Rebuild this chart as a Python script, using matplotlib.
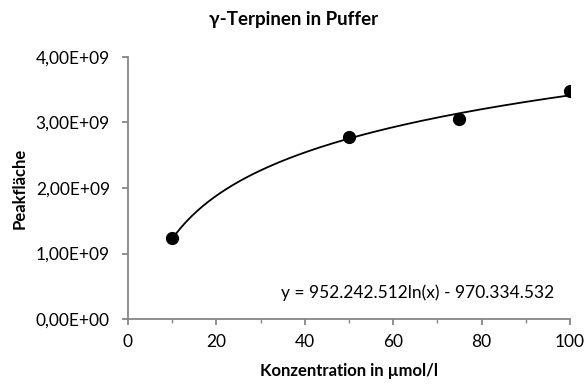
import numpy as np
import matplotlib
matplotlib.use("Agg")
import matplotlib.pyplot as plt
from matplotlib.ticker import FuncFormatter, MultipleLocator

plt.rcParams['font.family'] = ['Lato', 'DejaVu Sans']

# Messwerte
konzentration = [10, 50, 75, 100]
peakflaeche = [1.235e9, 2.785e9, 3.05e9, 3.485e9]

# logarithmische Trendlinie
fit_a = 952242512
fit_b = -970334532
fit_label = "y = 952.242.512ln(x) - 970.334.532"

axis_grey = "#868686"


def sci_comma(v, pos):
    return f"{v:.2E}".replace(".", ",")


fig = plt.figure(figsize=(5.87, 3.85), dpi=100)
ax = fig.add_axes([0.218, 0.1714, 0.753, 0.6806])

xs = np.linspace(min(konzentration), max(konzentration), 300)
ax.plot(xs, fit_a * np.log(xs) + fit_b, color="black", lw=1.3)
ax.plot(konzentration, peakflaeche, "o", color="black", ms=8.5, zorder=3)

ax.set_xlim(0, 100)
ax.set_ylim(0, 4e9)
ax.xaxis.set_major_locator(MultipleLocator(20))
ax.xaxis.set_minor_locator(MultipleLocator(10))
ax.yaxis.set_major_locator(MultipleLocator(1e9))
ax.yaxis.set_major_formatter(FuncFormatter(sci_comma))

for side in ("top", "right"):
    ax.spines[side].set_visible(False)
for side in ("left", "bottom"):
    ax.spines[side].set_color(axis_grey)
    ax.spines[side].set_linewidth(1.3)

ax.tick_params(which="major", direction="out", length=4, width=1.3, color=axis_grey,
               labelsize=12.5)
ax.tick_params(which="minor", direction="out", length=3, width=1.0, color=axis_grey)
ax.tick_params(axis="y", pad=9)
ax.tick_params(axis="x", pad=7)

# Titel und Achsenbeschriftungen
fig.text(0.5, 1 - 20 / 385, "γ-Terpinen in Puffer", ha="center", va="center",
         fontsize=13.5, fontweight="bold")
fig.text(0.5945, 1 - 371 / 385, "Konzentration in µmol/l", ha="center", va="center",
         fontsize=12, fontweight="bold")
fig.text(20 / 587, 0.512, "Peakfläche", ha="center", va="center", rotation=90,
         fontsize=12, fontweight="bold")

ax.text(65.6, 0.40e9, fit_label, ha="center", va="center", fontsize=12.5)

fig.savefig("out.png", dpi=100)
